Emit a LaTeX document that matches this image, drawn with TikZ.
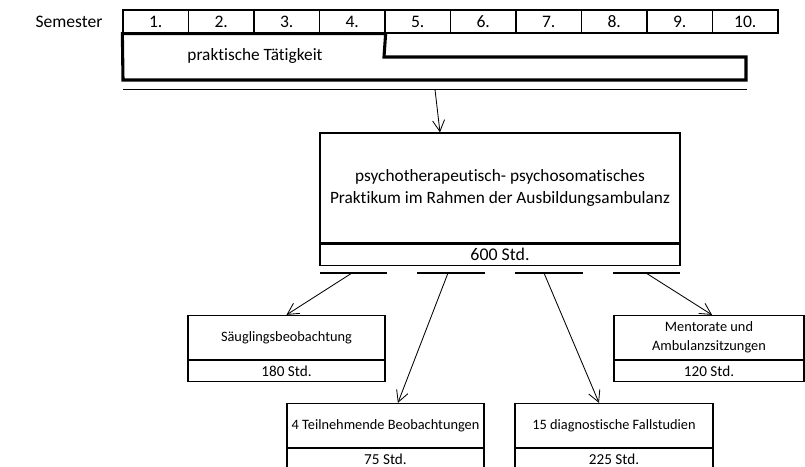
\documentclass[tikz,border=0pt]{standalone}
\usepackage{fontspec}
\setmainfont{Carlito}[Ligatures=CommonOff]
\usetikzlibrary{arrows.meta,positioning}

\begin{document}
\begin{tikzpicture}[x=0.025cm, y=-0.025cm,
    sem/.style={rectangle, draw, line width=0.9pt, minimum width=1.6375cm, minimum height=0.575cm, inner sep=0pt, font=\fontsize{12.5}{14}\selectfont},
    title/.style={rectangle, draw, line width=0.9pt, align=center, inner sep=0pt},
    hours/.style={rectangle, draw, line width=0.9pt, minimum height=0.525cm, inner sep=0pt, font=\fontsize{10.8}{12}\selectfont},
    small/.style={title, minimum width=4.925cm, minimum height=1.1cm, font=\fontsize{10.2}{13.5}\selectfont},
    arrow/.style={-{Straight Barb[length=2.8mm,width=3mm]}, line width=0.6pt},
    bar/.style={line width=1.4pt}
]
    \useasboundingbox (0,0) rectangle (805,467);

    % Semester row
    \node[font=\fontsize{12.5}{14}\selectfont] (semlabel) at (69,22) {Semester};
    \foreach \i in {1,...,10}
        \node[sem] (sem\i) at ({123+65.5*(\i-0.5)},21.5) {\i.};

    % praktische Taetigkeit
    \draw[line width=2.2pt] (sem1.south west) -- (sem4.south east) -- (384,57) -- (746,57) -- (746,80) -- (123,80) -- cycle;
    \node[font=\fontsize{12.3}{14}\selectfont] (prakt) at (255,56) {praktische Tätigkeit};
    \draw[bar] (123,89.5) -- (747,89.5);
    \coordinate (out) at (435,89.5);

    % Praktikum
    \node[title, minimum width=9cm, minimum height=2.75cm, font=\fontsize{12.3}{15.6}\selectfont] (main) at (500,188) {psychotherapeutisch- psychosomatisches\\Praktikum im Rahmen der Ausbildungsambulanz};
    \node[hours, minimum width=9cm, anchor=north, font=\fontsize{12.7}{14}\selectfont] (mainh) at (main.south) {600 Std.};
    \draw[arrow] (out) -- ([xshift=-1.5cm]main.north);

    % split bars
    \draw[bar] (320,273) -- (387,273);
    \draw[bar] (417,273) -- (485,273);
    \draw[bar] (515,273) -- (583,273);
    \draw[bar] (613,273) -- (680,273);
    \coordinate (b1) at (352,273);
    \coordinate (b2) at (448,273);
    \coordinate (b3) at (544,273);
    \coordinate (b4) at (646,273);

    % Bausteine
    \node[small] (saeug) at (286.5,337.5) {Säuglingsbeobachtung};
    \node[hours, minimum width=4.925cm, anchor=north] (saeugh) at (saeug.south) {180 Std.};

    \node[small] (teil) at (385.5,425.5) {4 Teilnehmende Beobachtungen};
    \node[hours, minimum width=4.925cm, anchor=north] (teilh) at (teil.south) {75 Std.};

    \node[small, minimum width=4.95cm] (diag) at (614,425.5) {15 diagnostische Fallstudien};
    \node[hours, minimum width=4.95cm, anchor=north] (diagh) at (diag.south) {225 Std.};

    \node[small, minimum width=4.75cm] (ment) at (709,337.5) {Mentorate und\\Ambulanzsitzungen};
    \node[hours, minimum width=4.75cm, anchor=north] (menth) at (ment.south) {120 Std.};

    % Arrows
    \draw[arrow] (b1) -- (saeug.north);
    \draw[arrow] (b2) -- ([xshift=0.31cm]teil.north);
    \draw[arrow] (b3) -- ([xshift=-0.375cm]diag.north);
    \draw[arrow] (b4) -- ([xshift=0.075cm]ment.north);
\end{tikzpicture}
\end{document}
